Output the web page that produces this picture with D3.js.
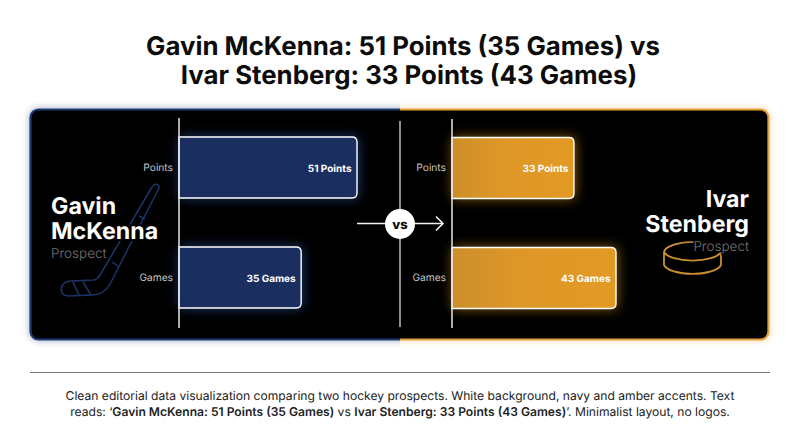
<!DOCTYPE html>
<html><head><meta charset="utf-8">
<script src="https://cdn.jsdelivr.net/npm/d3@7/dist/d3.min.js"></script>
<style>html,body{margin:0;padding:0;background:#fff}svg{display:block}text{font-family:Inter,sans-serif;text-rendering:geometricPrecision}</style>
</head><body><svg id="c" width="800" height="447"></svg>
<script>
const titleLines = ["Gavin McKenna: 51 Points (35 Games) vs", "Ivar Stenberg: 33 Points (43 Games)"];
const categories = ["Points", "Games"];
const gavinValues = [51, 35];
const ivarValues = [33, 43];
const units = ["Points", "Games"];
const gavinName = ["Gavin", "McKenna"];
const ivarName = ["Ivar", "Stenberg"];
const roleLabel = "Prospect";

const svg = d3.select("#c");
const defs = svg.append("defs");
function glow(id, sd){
  const f = defs.append("filter").attr("id", id).attr("x","-30%").attr("y","-40%").attr("width","160%").attr("height","180%");
  f.append("feGaussianBlur").attr("stdDeviation", sd);
}
glow("g3", 3); glow("g6", 6);
const ag = defs.append("linearGradient").attr("id","amberGrad");
ag.append("stop").attr("offset","0").attr("stop-color","#cc8e2b");
ag.append("stop").attr("offset","0.4").attr("stop-color","#de9727");
ag.append("stop").attr("offset","1").attr("stop-color","#e39a24");
const pg = defs.append("linearGradient").attr("id","puckTop");
pg.append("stop").attr("offset","0").attr("stop-color","#d99a3a");
pg.append("stop").attr("offset","0.55").attr("stop-color","#a87a30");
pg.append("stop").attr("offset","0.78").attr("stop-color","#000");
defs.append("clipPath").attr("id","leftHalf").append("rect").attr("x",0).attr("y",0).attr("width",400).attr("height",447);
defs.append("clipPath").attr("id","rightHalf").append("rect").attr("x",400).attr("y",0).attr("width",400).attr("height",447);

// Title
const titleX = [403, 409];
svg.append("g").selectAll("text").data(titleLines).join("text")
  .attr("x",(d,i)=>titleX[i]).attr("y",(d,i)=>55+i*29).attr("text-anchor","middle")
  .attr("font-size",25.8).attr("font-weight",700).attr("fill","#0c0c0c").text(d=>d);

// Card
const cardRect = g => g.append("rect").attr("x",30.5).attr("y",109.5).attr("width",738).attr("height",230).attr("rx",8);
const halves = [["leftHalf","#1d3a73","#22407c"],["rightHalf","#e5a23f","#e8a94d"]];
halves.forEach(([clip,c1,c2])=>{
  const h = svg.append("g").attr("clip-path",`url(#${clip})`);
  cardRect(h).attr("fill","none").attr("stroke",c2).attr("stroke-width",3).attr("opacity",.55).attr("filter","url(#g3)");
  cardRect(h).attr("fill","#000").attr("stroke",c1).attr("stroke-width",2.2);
});

// Hockey stick
const stick = svg.append("g").attr("fill","none").attr("stroke","#1c3568").attr("stroke-width",1.5).attr("stroke-linejoin","round");
stick.append("path").attr("d","M152 187 Q155 183 158 185 Q160 187 158 190 L110 284 Q104 295 92 295 L68 296 Q60 295 61.500 288 Q63 281 71 281 L94 280 Q98 279 100 275 Z");
stick.append("path").attr("d","M73 282 L79 295 M83 282 L91 295 M112 262 L118 266 M139 216 L145 219");

// Puck
const puck = svg.append("g").attr("fill","none").attr("stroke-width",1.8);
puck.append("path").attr("d","M664 252 A 29 10.500 0 0 1 721 250").attr("stroke","url(#puckTop)");
puck.append("path").attr("d","M664 252 A 29 10.500 0 0 0 721 252 M664 252 L664 265 A 29 11 0 0 0 721 265 L721 252").attr("stroke","#c8902f");

// Scales
const y = d3.scaleBand().domain(categories).range([137,308]).paddingInner(49/110).paddingOuter(0);
const xL = d3.scaleLinear().domain([0,51]).range([179,357]);
const xR = d3.scaleLinear().domain([4,43]).range([452,616]);

function panel(values, x, fill, glowCol, offset){
  const g = svg.append("g");
  g.selectAll("rect.glow").data(values).join("rect").attr("class","glow")
    .attr("x",x.range()[0]).attr("y",(d,i)=>y(categories[i])+offset-1)
    .attr("width",d=>x(d)-x.range()[0]+2).attr("height",y.bandwidth()+2).attr("rx",5)
    .attr("fill",glowCol).attr("opacity",.55).attr("filter","url(#g6)");
  const barPath = (d,i) => {
    const x0=x.range()[0], x1=x(d), t=y(categories[i])+offset, b=t+y.bandwidth(), r=5;
    return `M${x0} ${t}H${x1-r}Q${x1} ${t} ${x1} ${t+r}V${b-r}Q${x1} ${b} ${x1-r} ${b}H${x0}Z`;
  };
  g.selectAll("path.bar").data(values).join("path").attr("class","bar")
    .attr("d",barPath).attr("fill",fill).attr("stroke","#fff").attr("stroke-width",1.4);
  g.selectAll("text.val").data(values).join("text").attr("class","val")
    .attr("x",d=>x(d)-5.5).attr("y",(d,i)=>y(categories[i])+offset+y.bandwidth()/2+4)
    .attr("text-anchor","end").attr("font-size",10).attr("font-weight",700).attr("fill","#fff")
    .text((d,i)=>`${d} ${units[i]}`);
  const ax = g.append("g").attr("transform",`translate(${x.range()[0]},${offset})`)
    .call(d3.axisLeft(y).tickSize(0).tickPadding(6));
  ax.select(".domain").remove();
  ax.selectAll("text").attr("font-family","Inter,sans-serif").attr("font-size",10.2).attr("fill","#c4c4c4");
  g.append("line").attr("x1",x.range()[0]).attr("x2",x.range()[0]).attr("y1",118+ (offset?1:0)).attr("y2",328)
    .attr("stroke","#e6e6e6").attr("stroke-width",1.5);
}
panel(gavinValues,xL,"#1a2f60","#2f5fb5",0);
panel(ivarValues,xR,"url(#amberGrad)","#e39a24",0.5);

// Names
const nameText = (lines,x,anchor,ys,roleY) => {
  const g = svg.append("g").attr("text-anchor",anchor);
  g.selectAll("text.n").data(lines).join("text").attr("class","n")
    .attr("x",x).attr("y",(d,i)=>ys[i]).attr("font-size",23.2).attr("font-weight",700).attr("fill","#fff")
    .attr("stroke","#000").attr("stroke-width",4).attr("paint-order","stroke").text(d=>d);
  g.append("text").attr("x",x).attr("y",roleY).attr("font-size",13.5).attr("font-weight",300).attr("fill","#757575")
    .attr("stroke","#000").attr("stroke-width",3).attr("paint-order","stroke").text(roleLabel);
};
nameText(gavinName,51,"start",[214,239],258);
nameText(ivarName,749,"end",[207,232],251);

// VS connector
const conn = svg.append("g");
conn.append("line").attr("x1",400).attr("x2",400).attr("y1",121).attr("y2",327).attr("stroke","#bdbdbd").attr("stroke-width",1.5);
conn.append("line").attr("x1",357).attr("x2",443).attr("y1",223.500).attr("y2",223.500).attr("stroke","#f2f2f2").attr("stroke-width",1.6);
conn.append("path").attr("d","M436 216.500L443 223.500L436 230.500").attr("fill","none").attr("stroke","#f2f2f2").attr("stroke-width",1.6);
conn.append("circle").attr("cx",400).attr("cy",224).attr("r",15).attr("fill","#fff");
conn.append("text").attr("x",400).attr("y",228.500).attr("text-anchor","middle").attr("font-size",13).attr("font-weight",800).attr("fill","#0c0c0c").text("vs");

// Footer
svg.append("line").attr("x1",30).attr("x2",770).attr("y1",372.500).attr("y2",372.500).attr("stroke","#777").attr("stroke-width",1);
const f = svg.append("g").attr("text-anchor","middle").attr("font-size",12.1).attr("fill","#222");
f.append("text").attr("x",400).attr("y",400).text("Clean editorial data visualization comparing two hockey prospects. White background, navy and amber accents. Text");
const l2 = f.append("text").attr("x",400).attr("y",416);
l2.append("tspan").text("reads: ‘");
l2.append("tspan").attr("font-weight",600).text(titleLines[0].replace(" vs",""));
l2.append("tspan").text(" vs ");
l2.append("tspan").attr("font-weight",600).text(titleLines[1]);
l2.append("tspan").text("’. Minimalist layout, no logos.");
</script></body></html>
